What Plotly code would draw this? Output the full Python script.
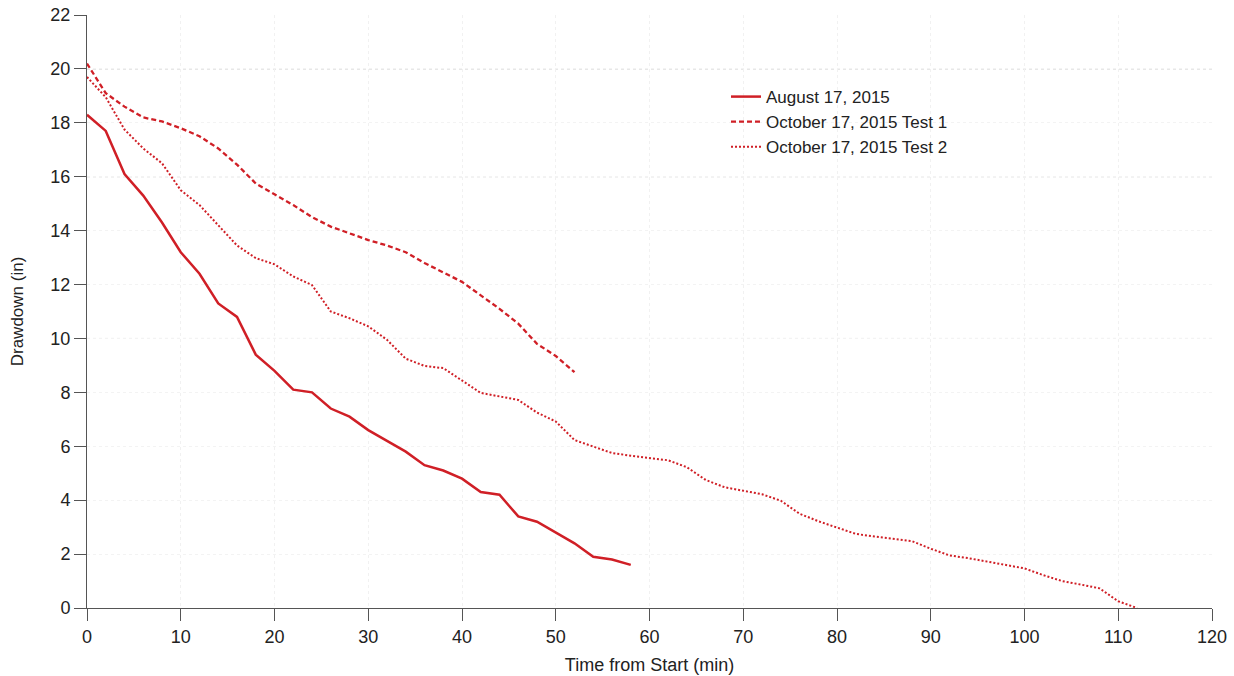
import plotly.graph_objects as go

time_aug = list(range(0, 60, 2))
drawdown_aug = [18.3, 17.7, 16.1, 15.3, 14.3, 13.2, 12.4, 11.3, 10.8, 9.4,
                8.8, 8.1, 8.0, 7.4, 7.1, 6.6, 6.2, 5.8, 5.3, 5.1,
                4.8, 4.3, 4.2, 3.4, 3.2, 2.8, 2.4, 1.9, 1.8, 1.6]

time_oct1 = list(range(0, 54, 2))
drawdown_oct1 = [20.2, 19.1, 18.6, 18.2, 18.05, 17.8, 17.5, 17.05, 16.45, 15.75,
                 15.35, 14.95, 14.5, 14.15, 13.9, 13.65, 13.45, 13.2, 12.8, 12.45,
                 12.1, 11.6, 11.1, 10.55, 9.8, 9.35, 8.75]

time_oct2 = list(range(0, 114, 2))
drawdown_oct2 = [19.7, 18.95, 17.75, 17.05, 16.5, 15.5, 14.95, 14.2, 13.45, 12.98,
                 12.75, 12.3, 11.98, 11.0, 10.75, 10.45, 9.95, 9.25, 8.98, 8.9,
                 8.45, 7.98, 7.85, 7.72, 7.25, 6.92, 6.23, 6.0, 5.75, 5.65,
                 5.57, 5.48, 5.22, 4.75, 4.48, 4.35, 4.22, 3.98, 3.5, 3.22,
                 2.98, 2.75, 2.65, 2.57, 2.48, 2.2, 1.95, 1.85, 1.72, 1.6,
                 1.47, 1.22, 1.0, 0.87, 0.73, 0.25, 0.0]

names = ["August 17, 2015", "October 17, 2015 Test 1", "October 17, 2015 Test 2"]
x_ticks = list(range(0, 130, 10))
y_ticks = list(range(0, 24, 2))
emph_y = [10, 16, 20]

RED = "#d01f26"
FONT = "Liberation Sans, Arial, sans-serif"

fig = go.Figure()
fig.add_trace(go.Scatter(x=time_aug, y=drawdown_aug, mode="lines", name=names[0],
                         line=dict(color=RED, width=2.5)))
fig.add_trace(go.Scatter(x=time_oct1, y=drawdown_oct1, mode="lines", name=names[1],
                         line=dict(color=RED, width=2.3, dash="5px,3px")))
fig.add_trace(go.Scatter(x=time_oct2, y=drawdown_oct2, mode="lines", name=names[2],
                         line=dict(color=RED, width=2, dash="2px,2px")))

for yv in emph_y:
    fig.add_hline(y=yv, line=dict(color="#c4c4c4", width=1, dash="dot"), layer="below")

fig.update_layout(
    width=1234, height=676,
    margin=dict(l=87, r=22, t=15, b=68, autoexpand=False),
    paper_bgcolor="white", plot_bgcolor="white",
    font=dict(family=FONT, size=18, color="#222"),
    showlegend=True,
    legend=dict(x=0.568, y=0.892, xanchor="left", yanchor="top",
                bgcolor="rgba(0,0,0,0)", font=dict(size=17, color="#222"),
                tracegroupgap=0, itemwidth=30),
    xaxis=dict(range=[0, 120], tickvals=x_ticks, ticks="outside", ticklen=12,
               tickcolor="#555", showline=True, linecolor="#555", linewidth=1,
               showgrid=True, gridcolor="#f1f1f1", griddash="dot", zeroline=False,
               automargin=False, ticklabeloverflow="allow",
               title=dict(text="Time from Start (min)", font=dict(size=18), standoff=12),
               tickfont=dict(size=18)),
    yaxis=dict(range=[0, 22], tickvals=y_ticks, ticks="outside", ticklen=12,
               tickcolor="#555", showline=True, linecolor="#555", linewidth=1,
               showgrid=True, gridcolor="#f3f3f3", griddash="dot", zeroline=False,
               automargin=False, ticklabeloverflow="allow",
               title=dict(text="Drawdown (in)", font=dict(size=17), standoff=22),
               tickfont=dict(size=18)),
)

fig.write_html("out.html",
               config={"displayModeBar": False},
               post_script="document.body.style.margin='0';document.body.style.overflow='hidden';")
